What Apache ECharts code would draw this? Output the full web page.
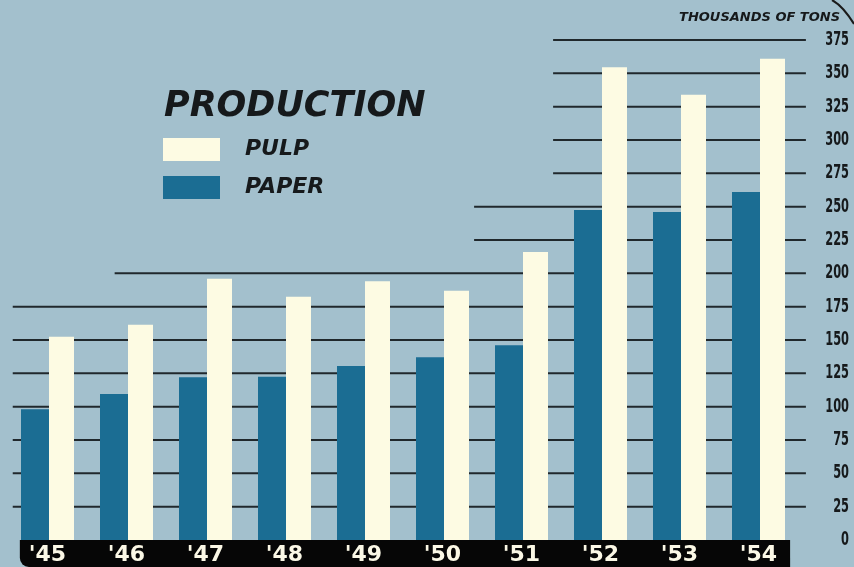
<!DOCTYPE html>
<html>
<head>
<meta charset="utf-8">
<script src="https://cdn.jsdelivr.net/npm/echarts@6/dist/echarts.min.js"></script>
<style>
  html, body { margin: 0; padding: 0; background: #a3c0cd; }
  #chart { width: 854px; height: 567px; }
</style>
</head>
<body>
<div id="chart"></div>
<script>
// Pulp and paper production, thousands of tons
const YEARS = ["'45", "'46", "'47", "'48", "'49", "'50", "'51", "'52", "'53", "'54"];
const PULP = [152.5, 161.5, 196, 182.5, 194, 187, 216, 354.5, 334, 361];
const PAPER = [98, 109.5, 122, 122.5, 130.5, 137, 146, 247.5, 246, 261];
const Y_MAX = 375;
const Y_STEP = 25;
const Y_TICKS = [];
for (let v = 0; v <= Y_MAX; v += Y_STEP) Y_TICKS.push(v);

// Rule lines across the chart: each level starts further right as it rises
// (position given in category-band units on a hidden linear x axis)
function ruleStart(v) {
  if (v <= 175) return 0.06;
  if (v <= 200) return 1.35;
  if (v <= 250) return 5.9;
  return 6.9;
}
const RULE_END = 10.1;
const ruleLevels = Y_TICKS.filter(v => v > 0);

const BG = '#a3c0cd';
const CREAM = '#fdfbe3';
const BLUE = '#1b6d93';
const INK = '#16191b';

const chart = echarts.init(document.getElementById('chart'), null, { renderer: 'canvas' });

const option = {
  backgroundColor: BG,
  animation: false,
  title: [
    {
      text: 'PRODUCTION',
      left: 164, top: 89, padding: 0,
      textStyle: { fontFamily: 'DejaVu Sans', fontWeight: 'bold', fontStyle: 'italic', fontSize: 35, color: INK }
    },
    {
      text: 'THOUSANDS OF TONS',
      right: 14, top: 11, padding: 0,
      textStyle: { fontFamily: 'DejaVu Sans', fontWeight: 'bold', fontStyle: 'italic', fontSize: 13, color: INK }
    }
  ],
  legend: {
    data: ['PULP', 'PAPER'],
    orient: 'vertical',
    left: 163, top: 138, padding: 0,
    icon: 'rect',
    itemWidth: 57, itemHeight: 23, itemGap: 15,
    selectedMode: false,
    textStyle: {
      fontFamily: 'DejaVu Sans', fontWeight: 'bold', fontStyle: 'italic',
      fontSize: 22, color: INK, padding: [0, 0, 0, 20]
    }
  },
  grid: { left: 8, right: 56, top: 40, bottom: 27, containLabel: false },
  xAxis: [
    {
      type: 'category',
      data: YEARS,
      axisLine: { show: false },
      axisTick: { show: false },
      axisLabel: {
        margin: 3,
        color: '#fbf8e6',
        fontFamily: 'DejaVu Sans', fontWeight: 'bold', fontSize: 22,
        lineHeight: 24
      }
    },
    { type: 'value', min: 0, max: 10, show: false }
  ],
  yAxis: {
    type: 'value',
    position: 'right',
    min: 0, max: Y_MAX, interval: Y_STEP,
    splitLine: { show: false },
    axisLine: { show: false },
    axisTick: { show: false },
    axisLabel: { show: false }
  },
  series: [
    {
      // horizontal rules
      type: 'custom',
      xAxisIndex: 1, yAxisIndex: 0,
      z: 1, clip: false, silent: true,
      data: ruleLevels.map(v => [v]),
      renderItem: function (params, api) {
        const v = api.value(0);
        const a = api.coord([ruleStart(v), v]);
        const b = api.coord([RULE_END, v]);
        return {
          type: 'line',
          shape: { x1: a[0], y1: a[1], x2: b[0], y2: b[1] },
          style: { stroke: '#20282c', lineWidth: 2 }
        };
      }
    },
    {
      // value scale on the right, in a narrow condensed face
      type: 'custom',
      xAxisIndex: 1, yAxisIndex: 0,
      z: 4, clip: false, silent: true,
      data: Y_TICKS.map(v => [v]),
      renderItem: function (params, api) {
        const v = api.value(0);
        const p = api.coord([10, v]);
        return {
          type: 'text',
          x: p[0] + 51, y: p[1],
          scaleX: 0.6, scaleY: 1,
          style: {
            text: String(v),
            x: 0, y: 0,
            align: 'right', verticalAlign: 'middle',
            fill: INK,
            font: 'bold 19px "DejaVu Sans"'
          }
        };
      }
    },
    {
      name: 'PAPER', type: 'bar', data: PAPER,
      xAxisIndex: 0, z: 3,
      barWidth: 28, barGap: '0%',
      itemStyle: { color: BLUE }
    },
    {
      name: 'PULP', type: 'bar', data: PULP,
      xAxisIndex: 0, z: 3,
      barWidth: 25, barGap: '0%',
      itemStyle: { color: CREAM }
    }
  ]
};
chart.setOption(option);

// Black label band under the bars, spanning the bar groups
const x0 = chart.convertToPixel({ xAxisIndex: 1 }, 0.15);
const x1 = chart.convertToPixel({ xAxisIndex: 1 }, 9.9);
const yBase = chart.convertToPixel({ yAxisIndex: 0 }, 0);
chart.setOption({
  graphic: [
    {
      type: 'rect', z: -1, silent: true,
      shape: { x: x0, y: yBase, width: x1 - x0, height: chart.getHeight() - yBase, r: [0, 0, 0, 9] },
      style: { fill: '#060606' }
    },
    {
      type: 'bezierCurve', silent: true,
      shape: { x1: 832, y1: 0, cpx1: 843, cpy1: 6, x2: 854, y2: 24 },
      style: { stroke: '#1a1a1a', lineWidth: 2, fill: null }
    }
  ]
});
</script>
</body>
</html>
